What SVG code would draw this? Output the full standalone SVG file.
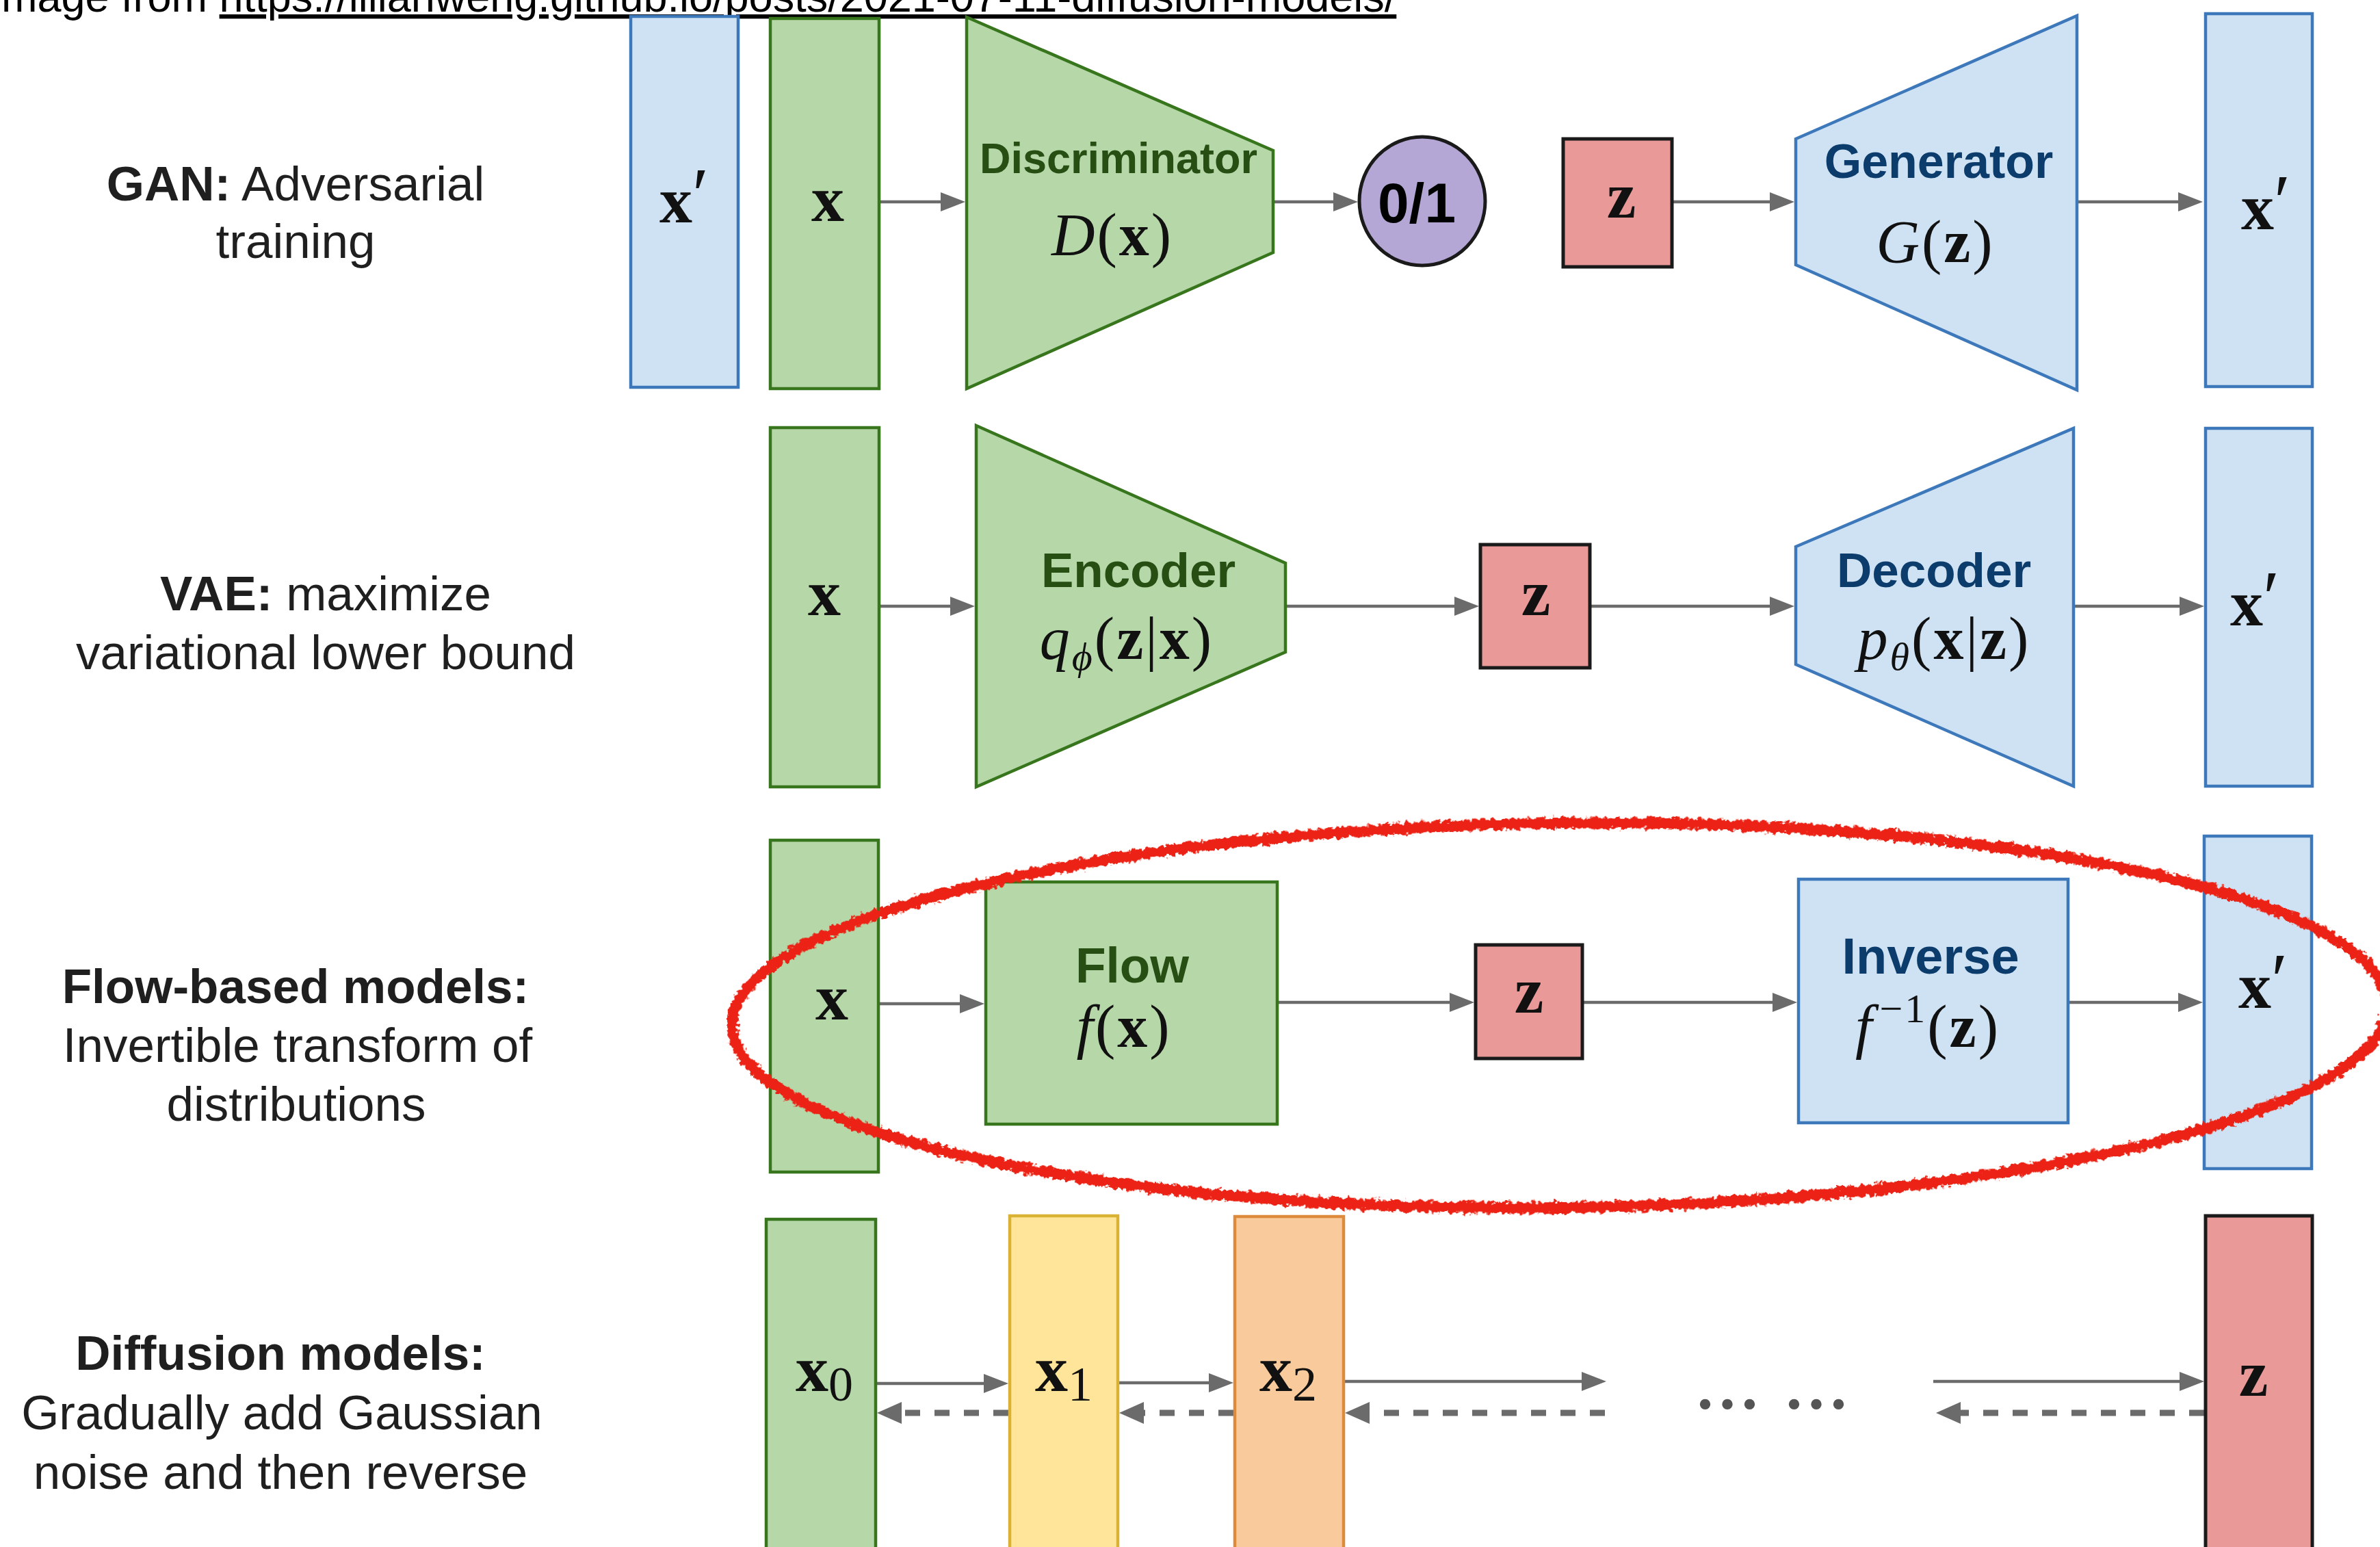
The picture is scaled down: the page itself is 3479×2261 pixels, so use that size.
<svg xmlns="http://www.w3.org/2000/svg" width="3479" height="2261" viewBox="0 0 3479 2261">
<defs>
<style>
.g{fill:#b6d7a8;stroke:#38761d;stroke-width:4.5}
.b{fill:#cfe2f3;stroke:#3d78ba;stroke-width:4.5}
.r{fill:#ea9999;stroke:#1a1a1a;stroke-width:5}
.p{fill:#b4a7d6;stroke:#1a1a1a;stroke-width:5}
.y{fill:#ffe599;stroke:#d9b233;stroke-width:4.5}
.o{fill:#f9cb9c;stroke:#dd8a3c;stroke-width:4.5}
.lbl{font-family:"Liberation Sans",Arial,sans-serif;font-size:71px;fill:#1f1f1f;text-anchor:middle}
.bold{font-weight:bold}
.hd{font-family:"Liberation Sans",Arial,sans-serif;font-weight:bold;text-anchor:middle}
.gt{fill:#274e13}
.bt{fill:#0b3c6b}
.m{font-family:"Liberation Serif","Times New Roman",serif;font-size:88px;fill:#111;text-anchor:middle;letter-spacing:3px}
.v{font-family:"Liberation Serif","Times New Roman",serif;font-size:96px;font-weight:bold;fill:#111;text-anchor:middle}
.it{font-style:italic;font-weight:normal}
.bf{font-weight:bold;font-style:normal}
.rm{font-weight:normal;font-style:normal}
.pr{font-weight:normal;font-style:normal;font-size:110px}
.arr{stroke:#6b6b6b;stroke-width:4.5;fill:none;marker-end:url(#ah)}
.dash{stroke:#6b6b6b;stroke-width:9;fill:none;stroke-dasharray:22 21;marker-end:url(#ah2)}
</style>
<marker id="ah" markerUnits="userSpaceOnUse" viewBox="0 0 36 28" refX="16" refY="14" markerWidth="36" markerHeight="28" orient="auto">
<path d="M0,0 L36,14 L0,28 z" fill="#6b6b6b"/>
</marker>
<marker id="ah2" markerUnits="userSpaceOnUse" viewBox="0 0 36 32" refX="16" refY="16" markerWidth="36" markerHeight="32" orient="auto">
<path d="M0,0 L36,16 L0,32 z" fill="#6b6b6b"/>
</marker>
<filter id="rough" x="-3%" y="-15%" width="106%" height="130%">
<feTurbulence type="fractalNoise" baseFrequency="0.14" numOctaves="3" seed="4" result="n"/>
<feDisplacementMap in="SourceGraphic" in2="n" scale="13" xChannelSelector="R" yChannelSelector="G"/>
</filter>
</defs>
<rect width="3479" height="2261" fill="#ffffff"/>

<g id="header">
<text x="2" y="17" font-family="'Liberation Sans',Arial,sans-serif" font-size="63" fill="#000">mage from <tspan style="text-decoration:underline">https://lilianweng.github.io/posts/2021-07-11-diffusion-models/</tspan></text>
</g>

<g id="labels">
<text class="lbl" x="432" y="293"><tspan class="bold">GAN:</tspan> Adversarial</text>
<text class="lbl" x="432" y="377">training</text>
<text class="lbl" x="476" y="892"><tspan class="bold">VAE:</tspan> maximize</text>
<text class="lbl" x="476" y="978">variational lower bound</text>
<text class="lbl bold" x="432" y="1466">Flow-based models:</text>
<text class="lbl" x="435" y="1552">Invertible transform of</text>
<text class="lbl" x="433" y="1638">distributions</text>
<text class="lbl bold" x="410" y="2002">Diffusion models:</text>
<text class="lbl" x="412" y="2089">Gradually add Gaussian</text>
<text class="lbl" x="410" y="2176">noise and then reverse</text>
</g>

<g id="connectors">
<path class="arr" d="M1285,295 H1391"/>
<path class="arr" d="M1861,295 H1965"/>
<path class="arr" d="M2444,295 H2603"/>
<path class="arr" d="M3036,295 H3200"/>
<path class="arr" d="M1285,886 H1405"/>
<path class="arr" d="M1879,886 H2142"/>
<path class="arr" d="M2324,886 H2603"/>
<path class="arr" d="M3031,886 H3202"/>
<path class="arr" d="M1284,1467 H1419"/>
<path class="arr" d="M1867,1465 H2135"/>
<path class="arr" d="M2313,1465 H2607"/>
<path class="arr" d="M3023,1465 H3200"/>
<path class="arr" d="M1282,2022 H1454"/>
<path class="arr" d="M1636,2021 H1783"/>
<path class="arr" d="M1966,2019 H2328"/>
<path class="arr" d="M2826,2019 H3202"/>
<path class="dash" d="M1474,2065 H1302"/>
<path class="dash" d="M1803,2065 H1656"/>
<path class="dash" d="M2346,2065 H1986"/>
<path class="dash" d="M3222,2065 H2850"/>
</g>

<g id="gan-xprime-in"><rect class="b" x="922" y="24" width="157" height="542"/><text class="v" x="1000" y="325">x<tspan class="pr" dy="-4">′</tspan></text></g>
<g id="gan-x"><rect class="g" x="1126" y="27" width="159" height="541"/><text class="v" x="1210" y="323">x</text></g>
<g id="discriminator"><polygon class="g" points="1413,25 1861,220 1861,369 1413,568"/>
<text class="hd gt" x="1635" y="253" style="font-size:63px">Discriminator</text>
<text class="m" x="1626" y="373"><tspan class="it">D</tspan>(<tspan class="bf">x</tspan>)</text></g>
<g id="output01"><ellipse class="p" cx="2079" cy="294" rx="92" ry="94"/><text x="2071" y="325" text-anchor="middle" font-family="'Liberation Sans',Arial,sans-serif" font-weight="bold" font-size="82" fill="#000">0/1</text></g>
<g id="gan-z"><rect class="r" x="2285" y="203" width="159" height="187"/><text class="v" x="2370" y="318">z</text></g>
<g id="generator"><polygon class="b" points="2625,203 3036,23 3036,570 2625,387"/>
<text class="hd bt" x="2834" y="260" style="font-size:70px">Generator</text>
<text class="m" x="2829" y="383"><tspan class="it">G</tspan>(<tspan class="bf">z</tspan>)</text></g>
<g id="gan-xprime-out"><rect class="b" x="3224" y="20" width="156" height="545"/><text class="v" x="3312" y="335">x<tspan class="pr" dy="-4">′</tspan></text></g>

<g id="vae-x"><rect class="g" x="1126" y="625" width="159" height="525"/><text class="v" x="1205" y="899">x</text></g>
<g id="encoder"><polygon class="g" points="1427,622 1879,823 1879,953 1427,1150"/>
<text class="hd gt" x="1664" y="858" style="font-size:71px">Encoder</text>
<text class="m" x="1647" y="963"><tspan class="it">q</tspan><tspan class="it" font-size="58" dy="16">ϕ</tspan><tspan dy="-16">(</tspan><tspan class="bf">z</tspan>|<tspan class="bf">x</tspan>)</text></g>
<g id="vae-z"><rect class="r" x="2164" y="796" width="160" height="180"/><text class="v" x="2245" y="899">z</text></g>
<g id="decoder"><polygon class="b" points="2625,799 3031,626 3031,1149 2625,971"/>
<text class="hd bt" x="2827" y="858" style="font-size:71px">Decoder</text>
<text class="m" x="2842" y="963"><tspan class="it">p</tspan><tspan class="it" font-size="58" dy="16">θ</tspan><tspan dy="-16">(</tspan><tspan class="bf">x</tspan>|<tspan class="bf">z</tspan>)</text></g>
<g id="vae-xprime"><rect class="b" x="3224" y="626" width="156" height="523"/><text class="v" x="3296" y="914">x<tspan class="pr" dy="-4">′</tspan></text></g>

<g id="flow-x"><rect class="g" x="1126" y="1228" width="158" height="485"/><text class="v" x="1216" y="1490">x</text></g>
<g id="flow"><rect class="g" x="1441" y="1289" width="426" height="354"/>
<text class="hd gt" x="1655" y="1436" style="font-size:73px">Flow</text>
<text class="m" x="1643" y="1530"><tspan class="it">f</tspan>(<tspan class="bf">x</tspan>)</text></g>
<g id="flow-z"><rect class="r" x="2157" y="1381" width="156" height="166"/><text class="v" x="2235" y="1480">z</text></g>
<g id="inverse"><rect class="b" x="2629" y="1285" width="394" height="356"/>
<text class="hd bt" x="2822" y="1423" style="font-size:74px">Inverse</text>
<text class="m" x="2818" y="1530"><tspan class="it">f</tspan><tspan font-size="60" dx="8" dy="-36">−1</tspan><tspan dy="36">(</tspan><tspan class="bf">z</tspan>)</text></g>
<g id="flow-xprime"><rect class="b" x="3222" y="1222" width="157" height="486"/><text class="v" x="3308" y="1473">x<tspan class="pr" dy="-4">′</tspan></text></g>

<g id="ellipse-highlight"><ellipse cx="2280" cy="1484" rx="1210" ry="281" fill="none" stroke="#ec2412" stroke-width="16" transform="rotate(-0.7 2280 1484)" filter="url(#rough)"/></g>

<g id="x0"><rect class="g" x="1120" y="1782" width="160" height="500"/><text class="v" x="1205" y="2033">x<tspan class="rm" font-size="72" dy="14">0</tspan></text></g>
<g id="x1"><rect class="y" x="1476" y="1777" width="158" height="505"/><text class="v" x="1555" y="2033">x<tspan class="rm" font-size="72" dy="14">1</tspan></text></g>
<g id="x2"><rect class="o" x="1805" y="1778" width="159" height="504"/><text class="v" x="1883" y="2033">x<tspan class="rm" font-size="72" dy="14">2</tspan></text></g>
<g id="ellipsis"><text x="2590" y="2058" text-anchor="middle" font-family="'Liberation Serif',serif" font-size="130" fill="#555">... ...</text></g>
<g id="diff-z"><rect class="r" x="3224" y="1777" width="156" height="505"/><text class="v" x="3294" y="2040">z</text></g>
</svg>
